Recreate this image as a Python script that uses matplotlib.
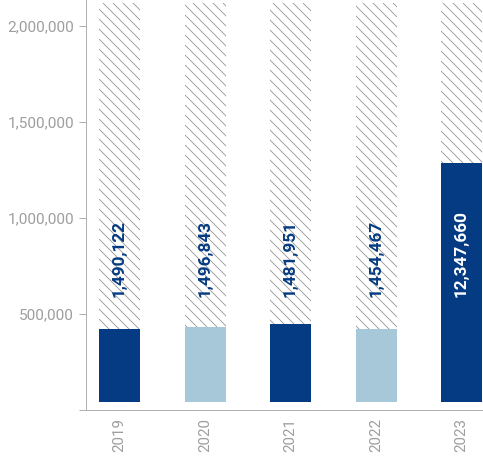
import matplotlib.pyplot as plt
from matplotlib.ticker import FuncFormatter

# Yearly figures
years = ['2019', '2020', '2021', '2022', '2023']
bar_heights = [421900, 433800, 447900, 421900, 1288000]
label_values = [1490122, 1496843, 1481951, 1454467, 12347660]
bar_colors = ['#053b82', '#a6c8d8', '#053b82', '#a6c8d8', '#053b82']
text_colors = ['#053b82', '#053b82', '#053b82', '#053b82', '#ffffff']
capacity = 2120000
y_ticks = [0, 500000, 1000000, 1500000, 2000000]

base = 42000
label_y = 588000

plt.rcParams['font.family'] = ['Roboto', 'DejaVu Sans']
plt.rcParams['hatch.linewidth'] = 1.0

dpi = 60
fig = plt.figure(figsize=(483 / dpi, 461 / dpi), dpi=dpi)
ax = fig.add_axes([86 / 483, 51 / 461, 397 / 483, 410 / 461])

x = range(len(years))
width = 0.48

# hatched background column up to capacity
ax.bar(x, capacity - base, bottom=base, width=width, color='white',
       edgecolor='#959595', hatch='\\\\', linewidth=0, zorder=1)
# solid bars
ax.bar(x, [h - base for h in bar_heights], bottom=base, width=width,
       color=bar_colors, linewidth=0, zorder=2)

for i, v in enumerate(label_values):
    ax.text(i, label_y, f'{v:,}', rotation=90, ha='center', va='bottom',
            color=text_colors[i], fontsize=20.5, fontweight=600,
            fontstretch='normal', zorder=3)

ax.set_xlim(-0.392, 4.251)
ax.set_ylim(0, 2135400)
ax.set_xticks(list(x))
ax.set_xticklabels(years, rotation=90, va='top')
ax.set_yticks(y_ticks)
ax.yaxis.set_major_formatter(FuncFormatter(lambda v, p: '' if v == 0 else f'{int(v):,}'))

for side in ['top', 'right']:
    ax.spines[side].set_visible(False)
for side in ['left', 'bottom']:
    ax.spines[side].set_color('#b0b0b0')
    ax.spines[side].set_linewidth(1.2)

ax.tick_params(axis='y', length=8.4, width=1.2, color='#b0b0b0', pad=6,
               labelsize=18.5, labelcolor='#9e9e9e')
ax.tick_params(axis='x', length=0, pad=9.5, labelsize=18, labelcolor='#9e9e9e')

fig.savefig('out.png', dpi=dpi)
